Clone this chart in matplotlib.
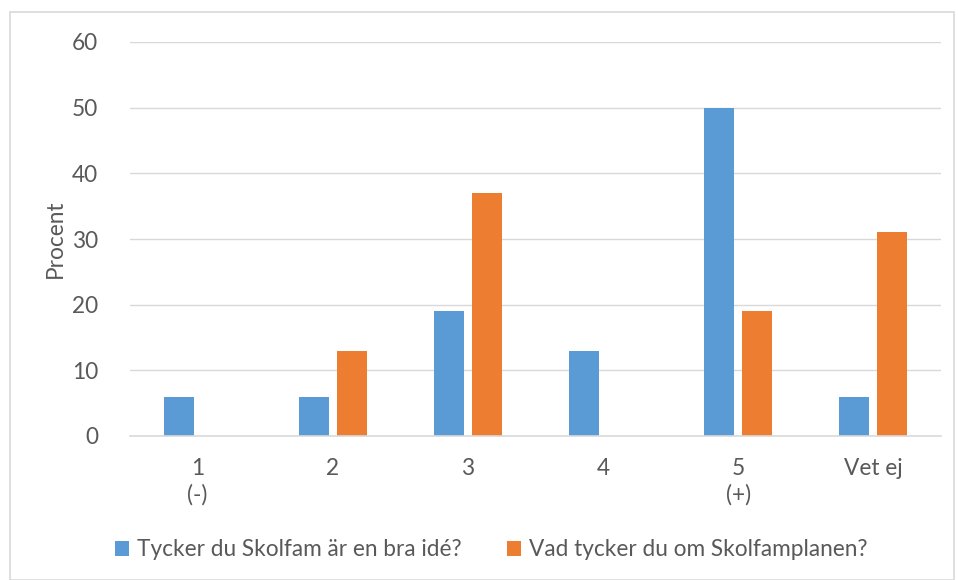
import matplotlib.pyplot as plt
import matplotlib.patches as mpatches
import numpy as np

categories = ["1\n(-)", "2", "3", "4", "5\n(+)", "Vet ej"]
bra_ide = [6, 6, 19, 13, 50, 6]
skolfamplanen = [0, 13, 37, 0, 19, 31]
label_a = "Tycker du Skolfam är en bra idé?"
label_b = "Vad tycker du om Skolfamplanen?"

blue = "#5B9BD5"
orange = "#ED7D31"
txt = "#595959"

plt.rcParams["font.family"] = ["Lato", "DejaVu Sans"]
fs = 16.3

fig = plt.figure(figsize=(9.58, 5.8), dpi=100)
ax = fig.add_axes([130 / 958, 1 - 436 / 580, 811 / 958, 394 / 580])

x = np.arange(len(categories))
w = 0.222
off = 0.14
ax.bar(x - off, bra_ide, w, color=blue, label=label_a)
ax.bar(x + off, skolfamplanen, w, color=orange, label=label_b)

ax.set_xlim(-0.5, len(categories) - 0.5)
ax.set_ylim(0, 60)
ax.set_yticks(range(0, 61, 10))
ax.set_xticks(x)
ax.set_xticklabels(categories, linespacing=1.3)
ax.tick_params(axis="both", length=0, colors=txt, labelsize=fs)
ax.tick_params(axis="x", pad=16)
ax.tick_params(axis="y", pad=23)
ax.grid(axis="y", color="#D9D9D9", linewidth=1)
ax.set_axisbelow(True)
for s in ["top", "right", "left"]:
    ax.spines[s].set_visible(False)
ax.spines["bottom"].set_color("#D9D9D9")
ax.spines["bottom"].set_linewidth(1.2)
ax.set_ylabel("Procent", color=txt, fontsize=fs, labelpad=4)

ax.legend(loc="center", bbox_to_anchor=(491 / 958, 1 - 550 / 580), bbox_transform=fig.transFigure,
          ncol=2, frameon=False, fontsize=fs, labelcolor=txt, handlelength=0.62,
          handleheight=0.62, handletextpad=0.35, columnspacing=2.0)

fig.patches.append(mpatches.Rectangle((10 / 958, 0), 944 / 958, 1 - 12 / 580,
                                      transform=fig.transFigure, fill=False,
                                      edgecolor="#D9D9D9", linewidth=1.2))

fig.savefig("out.png", dpi=100)
plt.close(fig)
